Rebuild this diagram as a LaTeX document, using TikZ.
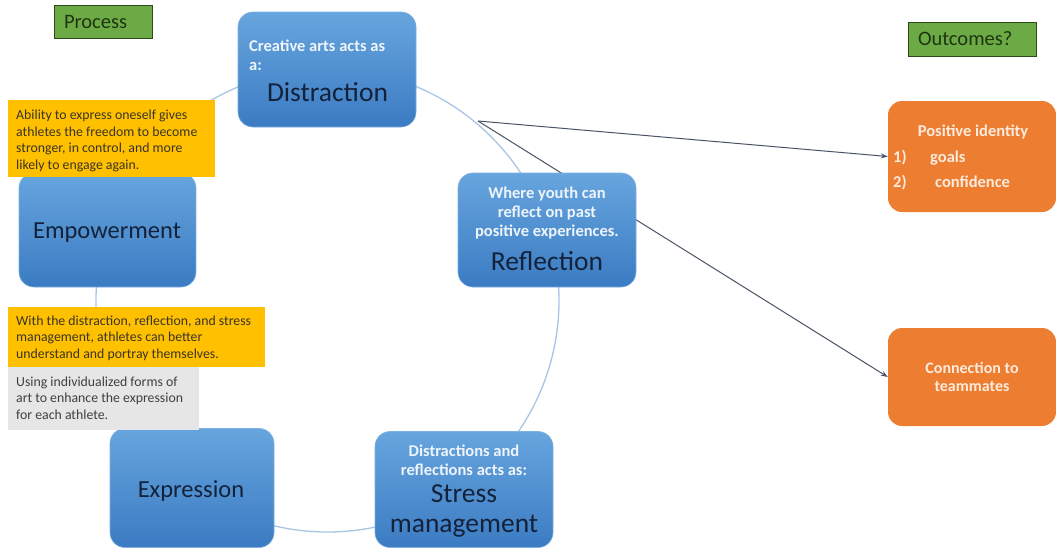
\documentclass[tikz,border=0pt]{standalone}
\usepackage{fontspec}
\setmainfont{Carlito}
\usetikzlibrary{arrows.meta}
\definecolor{ringblue}{HTML}{A9C5E6}
\definecolor{boxtop}{HTML}{67A5DE}
\definecolor{boxbot}{HTML}{3B7BC2}
\definecolor{boxedge}{HTML}{7CB0E2}
\definecolor{navy}{HTML}{13223A}
\definecolor{paletxt}{HTML}{EEF4FB}
\definecolor{amber}{HTML}{FFC000}
\definecolor{amtxt}{HTML}{3A3426}
\definecolor{lightgray}{HTML}{E7E6E6}
\definecolor{graytxt}{HTML}{3F3F3F}
\definecolor{orangebox}{HTML}{ED7D31}
\definecolor{oratxt}{HTML}{FCEBDD}
\definecolor{leaf}{HTML}{6BAA45}
\definecolor{leafedge}{HTML}{2E4A1C}
\definecolor{leaftxt}{HTML}{1F3410}
\definecolor{slate}{HTML}{4A5466}
\begin{document}
\begin{tikzpicture}[x=1pt,y=-1pt,
  ring/.style={draw=ringblue,line width=1.3pt},
  link/.style={draw=slate,line width=1pt,-{Stealth[length=7pt,width=5pt]}},
  bluebox/.style={rounded corners=15pt,top color=boxtop,bottom color=boxbot,draw=boxedge,line width=0.6pt,inner sep=0pt},
  orbox/.style={rounded corners=14pt,fill=orangebox,inner sep=0pt},
  headbox/.style={fill=leaf,draw=leafedge,line width=1pt,inner xsep=10pt,inner ysep=0pt,align=left,text=leaftxt,font=\fontsize{20.5}{24}\selectfont},
  notebox/.style={inner sep=0pt},
  note/.style={inner sep=0pt,align=left,anchor=west,font=\fontsize{13.8}{16.5}\selectfont},
  small/.style={inner sep=0pt,text=paletxt,font=\bfseries\fontsize{16.5}{19}\selectfont},
  big/.style={inner sep=0pt,text=navy,anchor=base,font=\fontsize{27.5}{30}\selectfont},
  mid/.style={inner sep=0pt,text=navy,anchor=base,font=\fontsize{24.5}{28}\selectfont},
  otxt/.style={inner sep=0pt,text=oratxt,font=\bfseries\fontsize{16.5}{19}\selectfont}]
\useasboundingbox[fill=white] (0,0) rectangle (1056,552);

% the cycle ring behind the stages
\draw[ring] (327.5,300.5) circle[radius=231.5pt];

% headings
\node[headbox,text width=78pt,minimum height=33pt] (proc) at (103,21.5) {Process};
\node[headbox,text width=108pt,minimum height=34pt] (outc) at (972,39) {Outcomes?};

% links to the outcomes
\coordinate (src) at (478,121);
\node[orbox,minimum width=168pt,minimum height=111pt] (pos) at (972,156.5) {};
\node[orbox,minimum width=168pt,minimum height=98pt] (conn) at (972,377) {};
\draw[link] (src) -- (pos.west);
\draw[link] (src) -- (conn.west);

% stages of the cycle
\node[bluebox,minimum width=178pt,minimum height=115pt] (dis) at (327,69.5) {};
\node[bluebox,minimum width=178pt,minimum height=114pt] (refl) at (547,230) {};
\node[bluebox,minimum width=178pt,minimum height=116pt] (stress) at (464,489.5) {};
\node[bluebox,minimum width=164pt,minimum height=119pt] (expr) at (192,488) {};
\node[bluebox,minimum width=177pt,minimum height=114pt] (emp) at (107.5,230) {};

\node[small,anchor=west,align=left] (disT) at (249,55) {Creative arts acts as\\a:};
\node[big] (disL) at (327.5,101) {Distraction};

\node[small,align=center] (reflT) at (547,213) {Where youth can\\reflect on past\\positive experiences.};
\node[big] (reflL) at (547,270) {Reflection};

\node[small,align=center] (stressT) at (464,460) {Distractions and\\reflections acts as:};
\node[big] (stressL1) at (464,502) {Stress};
\node[big] (stressL2) at (464,532) {management};

\node[mid] (exprL) at (191,497) {Expression};
\node[mid] (empL) at (107,238) {Empowerment};

% side notes
\node[notebox,fill=amber,minimum width=207pt,minimum height=77pt] (yel1) at (111.5,138.5) {};
\node[note,text=amtxt] (yel1T) at (16,141) {Ability to express oneself gives\\athletes the freedom to become\\stronger, in control, and more\\likely to engage again.};
\node[notebox,fill=amber,minimum width=257pt,minimum height=60pt] (yel2) at (136.5,337) {};
\node[note,text=amtxt] (yel2T) at (16,338) {With the distraction, reflection, and stress\\management, athletes can better\\understand and portray themselves.};
\node[notebox,fill=lightgray,minimum width=191pt,minimum height=63pt] (gray) at (103.5,398.5) {};
\node[note,text=graytxt] (grayT) at (16,398) {Using individualized forms of\\art to enhance the expression\\for each athlete.};

% outcome texts
\node[otxt,anchor=base] (posT) at (973,136) {Positive identity};
\node[otxt,anchor=base west] (posN1) at (893,162) {1)};
\node[otxt,anchor=base west] (posI1) at (930,162) {goals};
\node[otxt,anchor=base west] (posN2) at (893,187) {2)};
\node[otxt,anchor=base west] (posI2) at (935,187) {confidence};
\node[otxt,align=center,font=\bfseries\fontsize{16}{18.5}\selectfont] (connT) at (972,377) {Connection to\\teammates};
\end{tikzpicture}
\end{document}
